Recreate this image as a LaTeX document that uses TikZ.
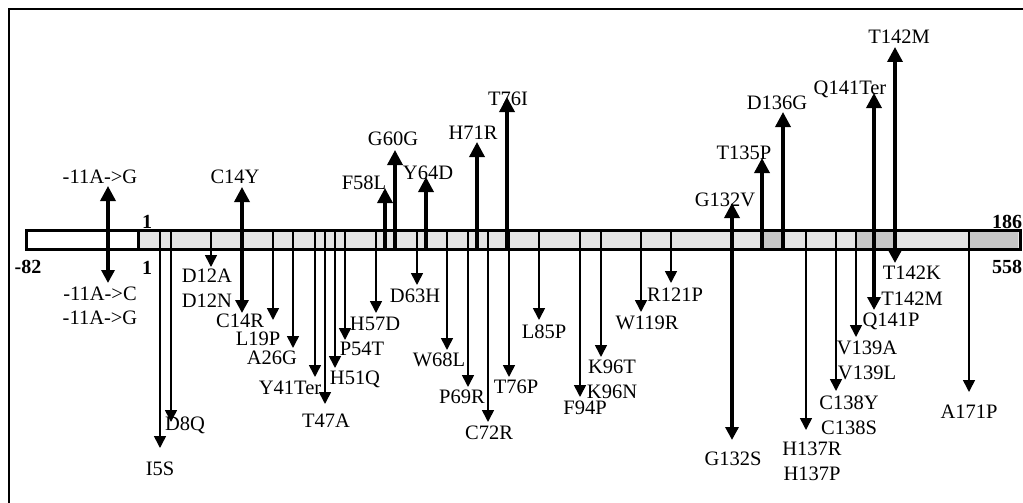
\documentclass[tikz,border=0pt]{standalone}
\usepackage{fontspec}
\setmainfont{Liberation Serif}
\usepackage{tikz}
\usetikzlibrary{arrows.meta}
\definecolor{BarLight}{gray}{0.90}
\definecolor{BarDark}{gray}{0.78}

\begin{document}
\begin{tikzpicture}[x=1pt, y=-1pt,
      lbl/.style={font=\fontsize{20.5}{24}\selectfont, inner sep=0pt, anchor=base},
      num/.style={font=\fontsize{20}{24}\selectfont\bfseries, inner sep=0pt, anchor=base},
      uparr/.style={-{Triangle[length=15pt, width=15pt]}, line width=3.4pt},
      dnarr/.style={-{Triangle[length=12pt, width=12pt]}, line width=1.6pt},
      dnthick/.style={-{Triangle[length=13pt, width=13pt]}, line width=3.4pt}
    ]
    \useasboundingbox (0,0) rectangle (1023,503);
    \draw[line width=1.2pt] (9,503) -- (9,9) -- (1023,9);

    \fill[BarLight] (138,230) rectangle (1020,249);
    \foreach \a/\b in {763/783, 857/895, 969/1018}{
      \fill[BarDark] (\a,230) rectangle (\b,249);
    }
    \draw[line width=3pt] (26,230) rectangle (1020,249);
    \draw[line width=3pt] (138,230) -- (138,249);

    \node[num] (cstart)  at (28,273)   {-82};
    \node[num] (pstart)  at (147,228)  {1};
    \node[num] (cone)    at (147,274)  {1};
    \node[num] (pend)    at (1007,228) {186};
    \node[num] (cend)    at (1007,273) {558};

    \foreach \x/\tip/\lx/\ly/\txt [count=\i] in {108/186/100/183/-11A->G, 242/187/235/183/C14Y,
        385/188/364/189/F58L, 395/150/393/145/G60G, 426/177/428/179/Y64D, 477/142/473/139/H71R,
        507/97/508/106/T76I, 732/203/725/206/G132V, 762/158/744/159/T135P, 783/112/777/109/D136G,
        874/93/850/94/Q141Ter, 895/47/899/44/T142M}{
      \coordinate (ub\i) at (\x,249);
      \coordinate (ut\i) at (\x,\tip);
      \draw[uparr] (ub\i) -- (ut\i);
      \node[lbl] (ul\i) at (\lx,\ly) {\txt};
    }

    \foreach \x/\tip/\lx/\ly/\txt [count=\i] in {108/283/100/300/-11A->C, 242/313/240/327/C14R,
        732/440/733/465/G132S, 874/310/891/326/Q141P, 895/263/912/279/T142K}{
      \coordinate (kb\i) at (\x,230);
      \coordinate (kt\i) at (\x,\tip);
      \draw[dnthick] (kb\i) -- (kt\i);
      \node[lbl] (kl\i) at (\lx,\ly) {\txt};
    }

    \foreach \x/\tip/\lx/\ly/\txt [count=\i] in {160/448/160/475/I5S, 171/422/185/430/D8Q,
        211/267/207/282/D12A, 273/320/258/345/L19P, 293/348/272/364/A26G, 315/377/290/394/Y41Ter,
        325/404/326/427/T47A, 335/368/355/384/H51Q, 345/340/362/355/P54T, 376/313/375/330/H57D,
        417/285/415/302/D63H, 447/350/439/366/W68L, 468/387/462/403/P69R, 488/422/489/439/C72R,
        509/377/516/393/T76P, 539/320/544/338/L85P, 580/397/585/414/F94P, 601/357/612/373/K96T,
        641/312/647/329/W119R, 671/283/675/301/R121P, 806/430/812/455/H137R, 836/391/849/409/C138Y,
        856/337/867/354/V139A, 969/392/969/418/A171P}{
      \coordinate (db\i) at (\x,230);
      \coordinate (dt\i) at (\x,\tip);
      \draw[dnarr] (db\i) -- (dt\i);
      \node[lbl] (dl\i) at (\lx,\ly) {\txt};
    }

    \foreach \lx/\ly/\txt [count=\i] in {100/324/-11A->G, 207/307/D12N, 612/398/K96N,
        812/480/H137P, 849/434/C138S, 867/379/V139L, 912/305/T142M}{
      \node[lbl] (sl\i) at (\lx,\ly) {\txt};
    }
  \end{tikzpicture}
\end{document}
